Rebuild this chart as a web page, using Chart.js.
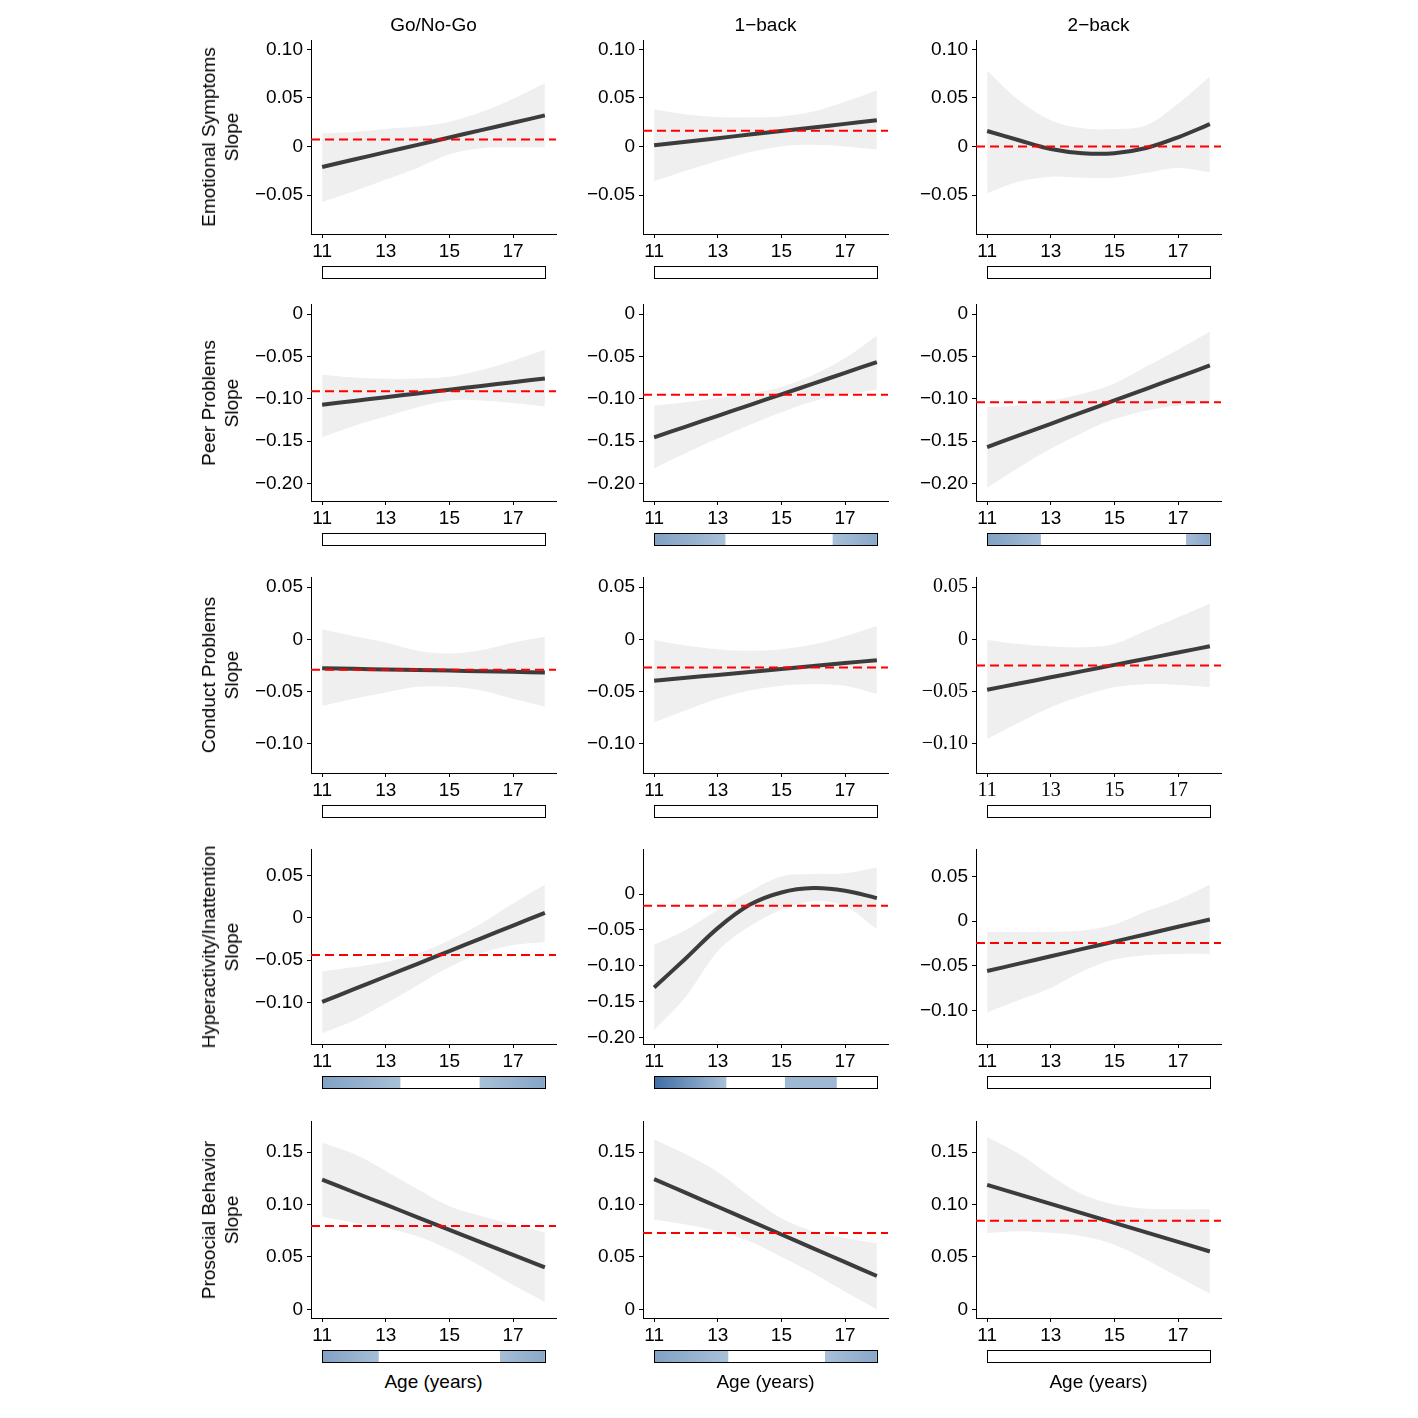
<!DOCTYPE html>
<html lang="en">
<head>
    <meta charset="UTF-8">
    <title>Slope by age</title>
    <script src="https://cdn.jsdelivr.net/npm/chart.js"></script>
    <style>
        body {
            margin: 0;
            background: #ffffff;
            font-family: 'Liberation Sans', Arial, sans-serif;
        }
        #page {
            position: relative;
            width: 1418px;
            height: 1418px;
            overflow: hidden;
        }
        canvas {
            position: absolute;
        }
        .lbl {
            position: absolute;
            font-size: 19px;
            color: #000;
            white-space: nowrap;
            text-align: center;
            transform: translate(-50%, -50%);
        }
        .rowlbl {
            line-height: 23px;
            transform: translate(-50%, -50%) rotate(-90deg);
        }
    </style>
</head>
<body>
<div id="page"></div>

<script>
    // ---- data ----
    const ages = [11, 12, 13, 14, 15, 16, 17, 18];
    const tasks = ['Go/No-Go', '1\u2212back', '2\u2212back'];
    const outcomes = ['Emotional Symptoms', 'Peer Problems', 'Conduct Problems', 'Hyperactivity/Inattention', 'Prosocial Behavior'];
    const xTicks = [11, 13, 15, 17];

    // each row: [Go/No-Go, 1-back, 2-back]
    const emotionalFit = [
        [-0.021, -0.0134, -0.0058, 0.0017, 0.0093, 0.0169, 0.0244, 0.032],
        [0.0013, 0.005, 0.0086, 0.0123, 0.016, 0.0196, 0.0233, 0.027],
        [0.016, 0.0065, -0.0025, -0.0068, -0.0068, -0.0015, 0.0095, 0.023]
    ];
    const emotionalUpper = [
        [0.0137, 0.015, 0.018, 0.0205, 0.0256, 0.0356, 0.049, 0.065],
        [0.038, 0.033, 0.0305, 0.030, 0.031, 0.036, 0.046, 0.058],
        [0.078, 0.0476, 0.027, 0.0187, 0.018, 0.022, 0.044, 0.072]
    ];
    const emotionalLower = [
        [-0.057, -0.046, -0.034, -0.022, -0.008, -0.0017, -0.0007, -0.0007],
        [-0.0357, -0.025, -0.015, -0.006, 0.0, 0.0017, 0.0, -0.003],
        [-0.048, -0.036, -0.031, -0.032, -0.032, -0.027, -0.022, -0.0265]
    ];
    const emotionalRef = [0.0072, 0.0163, 0];

    const peerFit = [
        [-0.107, -0.1026, -0.0981, -0.0937, -0.0893, -0.0849, -0.0804, -0.076],
        [-0.1455, -0.1328, -0.1201, -0.1074, -0.0948, -0.0821, -0.0694, -0.0567],
        [-0.157, -0.1432, -0.1295, -0.1157, -0.102, -0.0882, -0.0745, -0.0607]
    ];
    const peerUpper = [
        [-0.0715, -0.075, -0.0765, -0.076, -0.074, -0.066, -0.055, -0.042],
        [-0.108, -0.104, -0.099, -0.094, -0.086, -0.072, -0.052, -0.0257],
        [-0.11, -0.108, -0.102, -0.094, -0.082, -0.062, -0.042, -0.021]
    ];
    const peerLower = [
        [-0.145, -0.132, -0.121, -0.110, -0.102, -0.102, -0.105, -0.109],
        [-0.182, -0.164, -0.147, -0.131, -0.116, -0.103, -0.095, -0.089],
        [-0.205, -0.181, -0.159, -0.140, -0.124, -0.114, -0.108, -0.105]
    ];
    const peerRef = [-0.091, -0.0953, -0.104];

    const conductFit = [
        [-0.0277, -0.0283, -0.0289, -0.0295, -0.0300, -0.0306, -0.0312, -0.0318],
        [-0.0397, -0.0369, -0.0341, -0.0313, -0.0284, -0.0256, -0.0228, -0.020],
        [-0.0483, -0.0424, -0.0364, -0.0305, -0.0245, -0.0186, -0.0127, -0.0067]
    ];
    const conductUpper = [
        [0.0095, 0.003, -0.003, -0.011, -0.0137, -0.0105, -0.003, 0.0025],
        [-0.0006, -0.006, -0.0095, -0.011, -0.0095, -0.005, 0.003, 0.0127],
        [-0.0006, -0.0045, -0.007, -0.0077, -0.0045, 0.0083, 0.021, 0.034]
    ];
    const conductLower = [
        [-0.0637, -0.057, -0.051, -0.0455, -0.0455, -0.049, -0.057, -0.0646],
        [-0.0795, -0.068, -0.057, -0.049, -0.0445, -0.043, -0.0445, -0.0525],
        [-0.0955, -0.08, -0.065, -0.054, -0.046, -0.043, -0.0436, -0.046]
    ];
    const conductRef = [-0.0292, -0.027, -0.025];

    const hyperFit = [
        [-0.0992, -0.0842, -0.0692, -0.0542, -0.0392, -0.0241, -0.0091, 0.0059],
        [-0.1305, -0.0895, -0.0475, -0.015, 0.0023, 0.0084, 0.0047, -0.0056],
        [-0.0557, -0.0475, -0.0392, -0.031, -0.0228, -0.0146, -0.0063, 0.0019]
    ];
    const hyperUpper = [
        [-0.063, -0.058, -0.052, -0.042, -0.0264, -0.0067, 0.0169, 0.039],
        [-0.0708, -0.05, -0.022, 0.0037, 0.0247, 0.028, 0.029, 0.037],
        [-0.012, -0.012, -0.012, -0.0104, -0.0037, 0.011, 0.024, 0.041]
    ];
    const hyperLower = [
        [-0.136, -0.121, -0.101, -0.0795, -0.058, -0.042, -0.032, -0.0284],
        [-0.19, -0.143, -0.080, -0.045, -0.022, -0.010, -0.017, -0.049],
        [-0.102, -0.088, -0.0746, -0.056, -0.0429, -0.038, -0.0366, -0.0366]
    ];
    const hyperRef = [-0.0437, -0.0163, -0.0243];

    const prosocialFit = [
        [0.1237, 0.1117, 0.0998, 0.0878, 0.0759, 0.0639, 0.052, 0.040],
        [0.1243, 0.1111, 0.0979, 0.0847, 0.0714, 0.0582, 0.045, 0.0318],
        [0.1188, 0.1097, 0.1006, 0.0915, 0.0825, 0.0734, 0.0643, 0.0552]
    ];
    const prosocialUpper = [
        [0.159, 0.1484, 0.132, 0.1145, 0.0984, 0.089, 0.081, 0.0735],
        [0.162, 0.148, 0.131, 0.108, 0.087, 0.0745, 0.068, 0.063],
        [0.1644, 0.1484, 0.1275, 0.1096, 0.100, 0.096, 0.0954, 0.0954]
    ];
    const prosocialLower = [
        [0.0883, 0.0825, 0.0777, 0.0697, 0.0568, 0.0408, 0.0231, 0.007],
        [0.0858, 0.081, 0.0745, 0.065, 0.050, 0.0344, 0.0167, 0.0],
        [0.0729, 0.0745, 0.073, 0.0697, 0.0617, 0.0472, 0.031, 0.015]
    ];
    const prosocialRef = [0.0794, 0.0729, 0.0845];

    // y axis limits and tick values per panel
    const yLimits = [
        [[-0.090, 0.1096], [-0.090, 0.1096], [-0.090, 0.1096]],
        [[-0.2207, 0.0119], [-0.2207, 0.0119], [-0.2207, 0.0119]],
        [[-0.128, 0.0596], [-0.128, 0.0596], [-0.128, 0.0596]],
        [[-0.1488, 0.0812], [-0.2094, 0.063], [-0.1373, 0.0807]],
        [[-0.0083, 0.1797], [-0.0083, 0.1797], [-0.0083, 0.1797]]
    ];
    const yTicks = [
        [[-0.05, 0, 0.05, 0.10], [-0.05, 0, 0.05, 0.10], [-0.05, 0, 0.05, 0.10]],
        [[-0.20, -0.15, -0.10, -0.05, 0], [-0.20, -0.15, -0.10, -0.05, 0], [-0.20, -0.15, -0.10, -0.05, 0]],
        [[-0.10, -0.05, 0, 0.05], [-0.10, -0.05, 0, 0.05], [-0.10, -0.05, 0, 0.05]],
        [[-0.10, -0.05, 0, 0.05], [-0.20, -0.15, -0.10, -0.05, 0], [-0.10, -0.05, 0, 0.05]],
        [[0, 0.05, 0.10, 0.15], [0, 0.05, 0.10, 0.15], [0, 0.05, 0.10, 0.15]]
    ];

    // significance bands under each panel: [fromAge, toAge, shadeAtStart, shadeAtEnd] (shade 0 light .. 1 dark)
    const sigBands = [
        [[], [], []],
        [[], [[11, 13.24, 0.40, 0.06], [16.61, 18, 0.06, 0.32]], [[11, 12.69, 0.40, 0.10], [17.25, 18, 0.10, 0.32]]],
        [[], [], []],
        [[[11, 13.46, 0.40, 0.06], [15.95, 18, 0.06, 0.35]], [[11, 13.27, 0.97, 0.06], [15.11, 16.74, 0.14, 0.14]], []],
        [[[11, 12.78, 0.40, 0.08], [16.59, 18, 0.08, 0.33]], [[11, 13.33, 0.40, 0.06], [16.37, 18, 0.06, 0.33]], []]
    ];

    // ---- layout ----
    const colAxisX = [311, 643, 976];
    const rowTop = [40, 304, 577, 849, 1121];
    const rowHeight = [194, 197, 196, 195, 197];
    const plotW = 245;
    const LEFT = 100, TOPPAD = 18, RIGHTPAD = 10, BOTTOM = 48;
    const X_MIN = 10.65, X_MAX = 18.35;

    const fits = [emotionalFit, peerFit, conductFit, hyperFit, prosocialFit];
    const uppers = [emotionalUpper, peerUpper, conductUpper, hyperUpper, prosocialUpper];
    const lowers = [emotionalLower, peerLower, conductLower, hyperLower, prosocialLower];
    const refs = [emotionalRef, peerRef, conductRef, hyperRef, prosocialRef];

    const page = document.getElementById('page');

    function shadeColor(t) {
        const light = [176, 197, 220], dark = [58, 106, 160];
        const c = light.map((l, i) => Math.round(l + (dark[i] - l) * t));
        return `rgb(${c[0]},${c[1]},${c[2]})`;
    }

    function fmtTick(v) {
        if (Math.abs(v) < 1e-9) return '0';
        return (v < 0 ? '\u2212' : '') + Math.abs(v).toFixed(2);
    }

    function pts(values) {
        return ages.map((a, i) => ({ x: a, y: values[i] }));
    }

    const sigBarPlugin = {
        id: 'sigBar',
        afterDraw(chart) {
            const bands = chart.options.plugins.sigBar.bands;
            const xs = chart.scales.x;
            const ctx = chart.ctx;
            const y0 = chart.chartArea.bottom + 32;
            const h = 12;
            const x11 = xs.getPixelForValue(11), x18 = xs.getPixelForValue(18);
            ctx.save();
            ctx.fillStyle = '#ffffff';
            ctx.fillRect(x11, y0, x18 - x11, h);
            bands.forEach(b => {
                const a = xs.getPixelForValue(b[0]);
                const e = xs.getPixelForValue(b[1]);
                const g = ctx.createLinearGradient(a, 0, e, 0);
                g.addColorStop(0, shadeColor(b[2]));
                g.addColorStop(1, shadeColor(b[3]));
                ctx.fillStyle = g;
                ctx.fillRect(a, y0, e - a, h);
            });
            ctx.strokeStyle = '#000000';
            ctx.lineWidth = 1;
            ctx.strokeRect(Math.round(x11) + 0.5, Math.round(y0) + 0.5, Math.round(x18 - x11), h);
            ctx.restore();
        }
    };

    function makePanel(r, c) {
        const h = rowHeight[r];
        const canvas = document.createElement('canvas');
        const W = LEFT + plotW + RIGHTPAD;
        const H = TOPPAD + h + BOTTOM;
        canvas.width = W;
        canvas.height = H;
        canvas.style.left = (colAxisX[c] - LEFT) + 'px';
        canvas.style.top = (rowTop[r] - TOPPAD) + 'px';
        canvas.style.width = W + 'px';
        canvas.style.height = H + 'px';
        page.appendChild(canvas);

        const serif = (r === 2 && c === 2);
        const tickFont = serif
            ? { family: "'Liberation Serif', 'DejaVu Serif', serif", size: 20 }
            : { family: "'Liberation Sans', Arial, sans-serif", size: 19 };

        const ref = refs[r][c];

        new Chart(canvas, {
            type: 'line',
            data: {
                datasets: [
                    {
                        // confidence band (upper edge, filled down to next dataset)
                        data: pts(uppers[r][c]),
                        order: 3,
                        fill: '+1',
                        backgroundColor: '#efefef',
                        borderColor: 'rgba(0,0,0,0)',
                        borderWidth: 0,
                        pointRadius: 0,
                        tension: 0.35
                    },
                    {
                        data: pts(lowers[r][c]),
                        order: 3,
                        fill: false,
                        borderColor: 'rgba(0,0,0,0)',
                        borderWidth: 0,
                        pointRadius: 0,
                        tension: 0.35
                    },
                    {
                        data: pts(fits[r][c]),
                        order: 2,
                        fill: false,
                        borderColor: '#3c3c3c',
                        borderWidth: 4,
                        pointRadius: 0,
                        tension: 0.35
                    },
                    {
                        data: [{ x: X_MIN, y: ref }, { x: X_MAX, y: ref }],
                        order: 1,
                        fill: false,
                        borderColor: '#ff0000',
                        borderWidth: 2,
                        borderDash: [9, 5],
                        pointRadius: 0
                    }
                ]
            },
            options: {
                responsive: false,
                animation: false,
                layout: { padding: { top: TOPPAD, right: RIGHTPAD, left: 0, bottom: 0 } },
                plugins: {
                    legend: { display: false },
                    tooltip: { enabled: false },
                    sigBar: { bands: sigBands[r][c] }
                },
                scales: {
                    x: {
                        type: 'linear',
                        min: X_MIN,
                        max: X_MAX,
                        afterBuildTicks: s => { s.ticks = xTicks.map(v => ({ value: v })); },
                        afterFit: s => { s.height = BOTTOM; },
                        grid: { display: true, drawOnChartArea: false, drawTicks: true, tickLength: 4, color: '#000000' },
                        border: { display: true, color: '#000000', width: 1 },
                        ticks: { color: '#000000', font: tickFont, padding: 2, maxRotation: 0, autoSkip: false }
                    },
                    y: {
                        type: 'linear',
                        min: yLimits[r][c][0],
                        max: yLimits[r][c][1],
                        afterBuildTicks: s => { s.ticks = yTicks[r][c].map(v => ({ value: v })); },
                        afterFit: s => { s.width = LEFT; },
                        grid: { display: true, drawOnChartArea: false, drawTicks: true, tickLength: 4, color: '#000000' },
                        border: { display: true, color: '#000000', width: 1 },
                        ticks: { color: '#000000', font: tickFont, padding: 4, callback: v => fmtTick(v) }
                    }
                }
            },
            plugins: [sigBarPlugin]
        });
    }

    function addLabel(text, x, y, cls) {
        const d = document.createElement('div');
        d.className = 'lbl' + (cls ? ' ' + cls : '');
        d.innerHTML = text;
        d.style.left = x + 'px';
        d.style.top = y + 'px';
        page.appendChild(d);
    }

    for (let r = 0; r < outcomes.length; r++) {
        for (let c = 0; c < tasks.length; c++) {
            makePanel(r, c);
        }
        addLabel(outcomes[r] + '<br>Slope', 220, rowTop[r] + rowHeight[r] / 2, 'rowlbl');
    }
    tasks.forEach((t, c) => {
        addLabel(t, colAxisX[c] + plotW / 2, 25);
        addLabel('Age (years)', colAxisX[c] + plotW / 2, 1382);
    });
</script>
</body>
</html>
